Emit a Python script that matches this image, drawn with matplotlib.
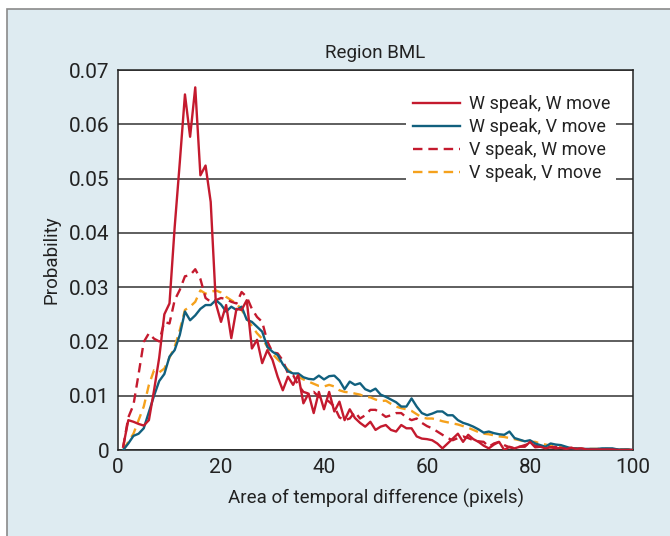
import numpy as np
import matplotlib
matplotlib.use('Agg')
import matplotlib.pyplot as plt
from matplotlib.patches import Rectangle

plt.rcParams['font.family'] = ['Liberation Sans Narrow', 'Roboto', 'DejaVu Sans']

######################################################
# Data (x = area in pixels, 1..100)
area = np.arange(1, 101)

w_speak_w_move = [
    0.0006, 0.0055, 0.0052, 0.0048, 0.0045, 0.0055, 0.0110, 0.0170, 0.0250, 0.0270,
    0.0410, 0.0530, 0.0655, 0.0577, 0.0668, 0.0506, 0.0524, 0.0457, 0.0270, 0.0236,
    0.0267, 0.0206, 0.0260, 0.0258, 0.0276, 0.0187, 0.0203, 0.0160, 0.0184, 0.0166,
    0.0135, 0.0110, 0.0135, 0.0120, 0.0138, 0.0086, 0.0104, 0.0068, 0.0107, 0.0075,
    0.0107, 0.0071, 0.0089, 0.0055, 0.0075, 0.0059, 0.0050, 0.0043, 0.0052, 0.0037,
    0.0043, 0.0046, 0.0037, 0.0034, 0.0046, 0.0040, 0.0040, 0.0025, 0.0021, 0.0020,
    0.0018, 0.0012, 0.0003, 0.0012, 0.0021, 0.0030, 0.0015, 0.0028, 0.0020, 0.0015,
    0.0008, 0.0003, 0.0010, 0.0015, 0.0000, 0.0006, 0.0003, 0.0006, 0.0006, 0.0015,
    0.0005, 0.0006, 0.0003, 0.0005, 0.0003, 0.0004, 0.0002, 0.0004, 0.0002, 0.0003,
    0.0001, 0.0001, 0.0001, 0.0001, 0.0001, 0.0001, 0.0000, 0.0000, 0.0000, 0.0000]

w_speak_v_move = [
    0.0000, 0.0012, 0.0026, 0.0030, 0.0040, 0.0070, 0.0100, 0.0127, 0.0140, 0.0172,
    0.0184, 0.0212, 0.0255, 0.0239, 0.0248, 0.0260, 0.0267, 0.0267, 0.0276, 0.0268,
    0.0255, 0.0264, 0.0258, 0.0264, 0.0240, 0.0236, 0.0227, 0.0218, 0.0190, 0.0181,
    0.0175, 0.0158, 0.0145, 0.0141, 0.0141, 0.0134, 0.0131, 0.0130, 0.0137, 0.0130,
    0.0136, 0.0137, 0.0128, 0.0112, 0.0126, 0.0120, 0.0123, 0.0112, 0.0108, 0.0113,
    0.0102, 0.0098, 0.0093, 0.0088, 0.0080, 0.0080, 0.0095, 0.0080, 0.0068, 0.0064,
    0.0067, 0.0071, 0.0071, 0.0064, 0.0064, 0.0055, 0.0050, 0.0047, 0.0043, 0.0038,
    0.0032, 0.0034, 0.0031, 0.0029, 0.0028, 0.0034, 0.0022, 0.0019, 0.0016, 0.0018,
    0.0012, 0.0009, 0.0006, 0.0012, 0.0010, 0.0009, 0.0006, 0.0003, 0.0003, 0.0002,
    0.0002, 0.0002, 0.0002, 0.0003, 0.0003, 0.0003, 0.0001, 0.0001, 0.0001, 0.0000]

v_speak_w_move = [
    0.0005, 0.0060, 0.0083, 0.0140, 0.0199, 0.0215, 0.0205, 0.0200, 0.0236, 0.0233,
    0.0276, 0.0295, 0.0320, 0.0322, 0.0333, 0.0315, 0.0280, 0.0273, 0.0276, 0.0280,
    0.0278, 0.0273, 0.0270, 0.0291, 0.0282, 0.0260, 0.0245, 0.0236, 0.0200, 0.0180,
    0.0178, 0.0165, 0.0141, 0.0138, 0.0120, 0.0107, 0.0104, 0.0107, 0.0098, 0.0095,
    0.0089, 0.0080, 0.0060, 0.0055, 0.0058, 0.0070, 0.0058, 0.0064, 0.0074, 0.0074,
    0.0068, 0.0061, 0.0064, 0.0068, 0.0068, 0.0060, 0.0055, 0.0058, 0.0050, 0.0044,
    0.0040, 0.0034, 0.0028, 0.0022, 0.0018, 0.0022, 0.0025, 0.0022, 0.0018, 0.0016,
    0.0015, 0.0006, 0.0012, 0.0015, 0.0009, 0.0005, 0.0003, 0.0006, 0.0009, 0.0012,
    0.0008, 0.0006, 0.0008, 0.0005, 0.0006, 0.0004, 0.0003, 0.0004, 0.0003, 0.0002,
    0.0001, 0.0001, 0.0001, 0.0001, 0.0001, 0.0001, 0.0001, 0.0000, 0.0000, 0.0000]

v_speak_v_move = [
    0.0000, 0.0015, 0.0030, 0.0055, 0.0080, 0.0120, 0.0147, 0.0143, 0.0150, 0.0170,
    0.0190, 0.0221, 0.0258, 0.0264, 0.0273, 0.0294, 0.0288, 0.0291, 0.0294, 0.0290,
    0.0282, 0.0276, 0.0270, 0.0258, 0.0243, 0.0228, 0.0215, 0.0205, 0.0190, 0.0177,
    0.0167, 0.0158, 0.0148, 0.0140, 0.0135, 0.0130, 0.0126, 0.0122, 0.0118, 0.0117,
    0.0120, 0.0117, 0.0110, 0.0107, 0.0106, 0.0104, 0.0102, 0.0098, 0.0097, 0.0093,
    0.0090, 0.0091, 0.0085, 0.0080, 0.0077, 0.0075, 0.0072, 0.0066, 0.0060, 0.0058,
    0.0058, 0.0056, 0.0053, 0.0051, 0.0049, 0.0047, 0.0044, 0.0041, 0.0037, 0.0033,
    0.0030, 0.0029, 0.0027, 0.0025, 0.0024, 0.0022, 0.0020, 0.0018, 0.0016, 0.0015,
    0.0015, 0.0012, 0.0010, 0.0008, 0.0006, 0.0005, 0.0004, 0.0003, 0.0003, 0.0002,
    0.0002, 0.0002, 0.0002, 0.0002, 0.0002, 0.0001, 0.0001, 0.0001, 0.0001, 0.0001]

series_labels = ['W speak, W move', 'W speak, V move', 'V speak, W move', 'V speak, V move']
x_ticks = [0, 20, 40, 60, 80, 100]
y_ticks = [0, 0.01, 0.02, 0.03, 0.04, 0.05, 0.06, 0.07]
y_tick_labels = ['0', '0.01', '0.02', '0.03', '0.04', '0.05', '0.06', '0.07']

red = '#c41a2e'
teal = '#11607e'
orange = '#f5a11c'
bg = '#deebf1'

######################################################
# Figure with the light blue panel behind the plot
fig = plt.figure(figsize=(6.7, 5.36), dpi=100)
fig.patch.set_facecolor('white')
panel = Rectangle((7 / 670, -0.01), 1.0, (536 - 9) / 536 + 0.01,
                  transform=fig.transFigure, facecolor=bg,
                  edgecolor='#8a8a8a', linewidth=1.2, zorder=-10)
fig.add_artist(panel)

ax = fig.add_axes([118 / 670, 86 / 536, 515 / 670, 380 / 536])
ax.set_zorder(1)
ax.set_facecolor('white')

ax.plot(area, w_speak_w_move, color=red, lw=1.7, label=series_labels[0], zorder=5)
ax.plot(area, w_speak_v_move, color=teal, lw=1.7, label=series_labels[1], zorder=4)
ax.plot(area, v_speak_w_move, color=red, lw=1.7, ls=(0, (4, 2.5)), label=series_labels[2], zorder=3)
ax.plot(area, v_speak_v_move, color=orange, lw=1.7, ls=(0, (4, 2.5)), label=series_labels[3], zorder=2)

ax.set_xlim(0, 100)
ax.set_ylim(0, 0.07)
ax.set_xticks(x_ticks)
ax.set_yticks(y_ticks)
ax.set_yticklabels(y_tick_labels)
ax.tick_params(length=0, labelsize=15, colors='#222222', pad=6)
ax.yaxis.grid(True, color='#333333', lw=1.1)
ax.set_axisbelow(True)
for s in ax.spines.values():
    s.set_color('#222222')
    s.set_linewidth(1.1)

ax.set_title('Region BML', fontsize=13.5, color='#222222', pad=9)
ax.set_xlabel('Area of temporal difference (pixels)', fontsize=13.5, color='#222222', labelpad=8)
ax.set_ylabel('Probability', fontsize=13.5, color='#222222', labelpad=6)

leg = ax.legend(loc='upper right', bbox_to_anchor=(0.985, 0.975), fontsize=13,
                frameon=True, handlelength=2.6, handletextpad=0.5,
                labelspacing=0.28, borderpad=0.35)
leg.get_frame().set_facecolor('white')
leg.get_frame().set_edgecolor('none')
leg.get_frame().set_alpha(1)
for t in leg.get_texts():
    t.set_color('#222222')

fig.savefig('out.png', dpi=100, facecolor=fig.get_facecolor())
